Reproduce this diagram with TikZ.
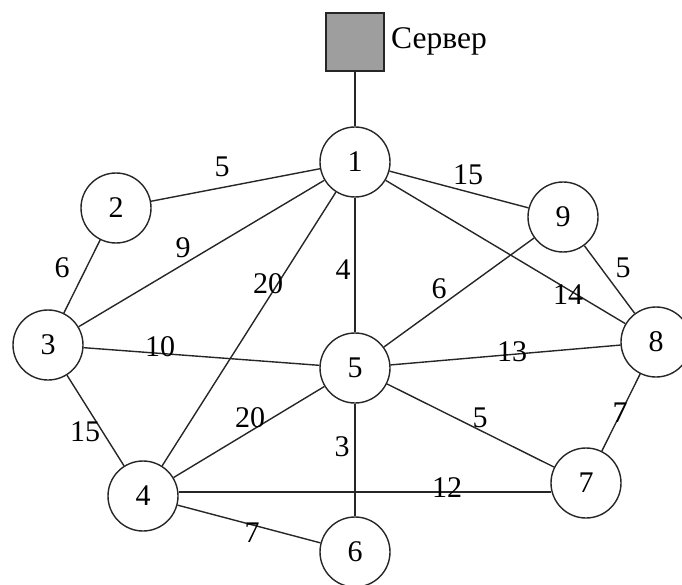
\documentclass[tikz,border=0pt]{standalone}
\usepackage{fontspec}
\setmainfont{Liberation Serif}
\begin{document}
\begin{tikzpicture}[x=1pt,y=-1pt,
  vert/.style={circle,draw=black!85,line width=1.4pt,minimum size=70pt,inner sep=0pt,fill=white,font=\fontsize{30}{32}\selectfont},
  lbl/.style={inner sep=0pt,font=\fontsize{30}{32}\selectfont},
  edge/.style={draw=black!85,line width=1.4pt}]
\useasboundingbox (0,0) rectangle (682,585);
\node[draw=black!85,line width=1.4pt,fill=black!38,minimum size=58pt,inner sep=0pt] (srv) at (355,42) {};
\node[anchor=west,font=\fontsize{31.5}{33}\selectfont,inner sep=0pt] (srvl) at (391,41) {Сервер};
\node[vert] (n1) at (355,162) {1};
\node[vert] (n2) at (116,208) {2};
\node[vert] (n3) at (48,345) {3};
\node[vert] (n4) at (143,496) {4};
\node[vert] (n5) at (355,368) {5};
\node[vert] (n6) at (355,552) {6};
\node[vert] (n7) at (586,483) {7};
\node[vert] (n8) at (656,342) {8};
\node[vert] (n9) at (563,217) {9};
\draw[edge] (srv) -- (n1);
\draw[edge] (n1) -- (n2);
\draw[edge] (n1) -- (n9);
\draw[edge] (n1) -- (n3);
\draw[edge] (n1) -- (n4);
\draw[edge] (n1) -- (n5);
\draw[edge] (n1) -- (n8);
\draw[edge] (n2) -- (n3);
\draw[edge] (n9) -- (n5);
\draw[edge] (n9) -- (n8);
\draw[edge] (n3) -- (n5);
\draw[edge] (n5) -- (n8);
\draw[edge] (n3) -- (n4);
\draw[edge] (n4) -- (n5);
\draw[edge] (n5) -- (n6);
\draw[edge] (n5) -- (n7);
\draw[edge] (n8) -- (n7);
\coordinate (c47) at (551,492);
\draw[edge] (n4.east |- c47) -- (c47);
\draw[edge] (n4) -- (n6);
\node[lbl] (l12) at (222,167) {5};
\node[lbl] (l19) at (468,175) {15};
\node[lbl] (l23) at (62,268) {6};
\node[lbl] (l13) at (183,248) {9};
\node[lbl] (l14) at (268,284) {20};
\node[lbl] (l15) at (343,270) {4};
\node[lbl] (l95) at (439,289) {6};
\node[lbl] (l18) at (568,295) {14};
\node[lbl] (l98) at (623,268) {5};
\node[lbl] (l35) at (160,347) {10};
\node[lbl] (l58) at (512,352) {13};
\node[lbl] (l34) at (85,432) {15};
\node[lbl] (l45) at (250,418) {20};
\node[lbl] (l56) at (342,447) {3};
\node[lbl] (l57) at (480,418) {5};
\node[lbl] (l87) at (620,413) {7};
\node[lbl] (l47) at (447,488) {12};
\node[lbl] (l46) at (252,533) {7};
\end{tikzpicture}
\end{document}
